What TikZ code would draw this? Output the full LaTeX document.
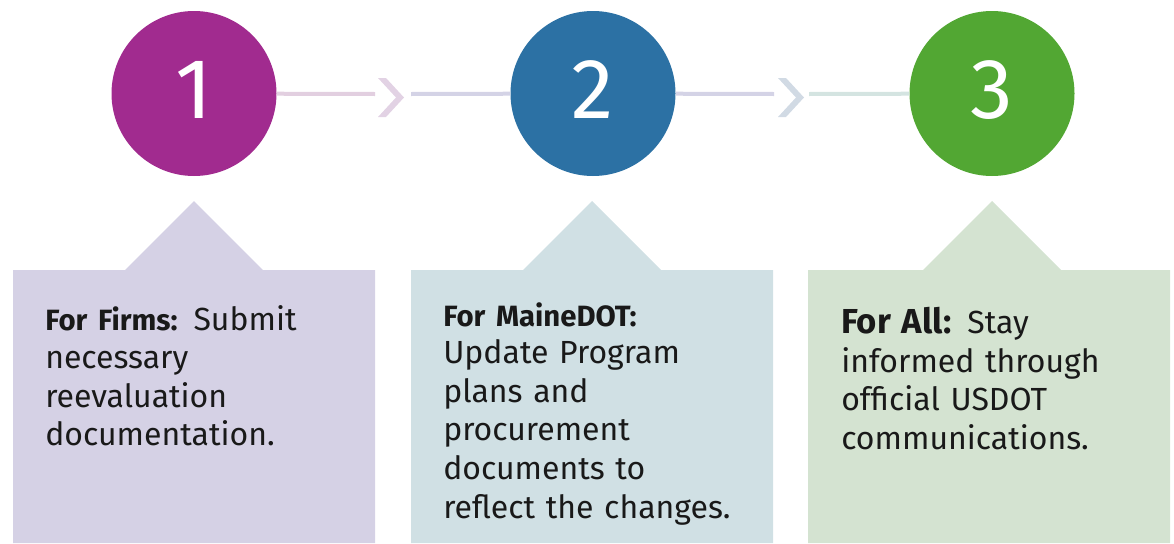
\documentclass[tikz,border=0pt]{standalone}
\usepackage{fontspec}
\setmainfont{Fira Sans}
\usetikzlibrary{positioning}
\definecolor{stepA}{HTML}{A12B8F}
\definecolor{stepB}{HTML}{2C71A4}
\definecolor{stepC}{HTML}{52A733}
\definecolor{boxA}{HTML}{D5D1E5}
\definecolor{boxB}{HTML}{D0E0E4}
\definecolor{boxC}{HTML}{D4E3D1}
\definecolor{linkA}{HTML}{E2CFE0}
\definecolor{chevA}{HTML}{E2D2E4}
\definecolor{linkB}{HTML}{D4D3E6}
\definecolor{chevB}{HTML}{D1DAE4}
\definecolor{linkC}{HTML}{D4E4E1}
\tikzset{every picture/.style={x=0.75pt,y=-0.75pt}}
\tikzset{step circle/.style={circle,inner sep=0pt,minimum size=123.75pt,text=white,text height=38pt,text depth=0pt,font=\fontsize{64}{64}\selectfont}}
\tikzset{link line/.style={line width=3pt}}
\tikzset{box text/.style={anchor=base west,inner sep=0pt,text width=240pt,align=left,text=black!90,font=\fontsize{24}{28.9}\selectfont}}
\newcommand{\chevron}[2]{\fill[#2] (#1,78) -- ++(8,0) -- ++(18,19.5) -- ++(-18,19.5) -- ++(-8,0) -- ++(18,-19.5) -- cycle;}
\begin{document}
\begin{tikzpicture}
  \useasboundingbox (0,0) rectangle (1174,543);
  \foreach \xl/\cx/\col in {13/194/boxA, 411/592/boxB, 808/992/boxC}
    \fill[\col] (\xl,270) -- (\cx-69,270) -- (\cx,201) -- (\cx+69,270) -- (\xl+362,270) -- (\xl+362,543) -- (\xl,543) -- cycle;

  \node[step circle,fill=stepA] (c1) at (194,93.5) {1};
  \node[step circle,fill=stepB] (c2) at (593,93.5) {2};
  \node[step circle,fill=stepC] (c3) at (992,93.5) {3};

  \coordinate (e1) at (375,94);
  \coordinate (s1) at (411,94);
  \coordinate (e2) at (774,94);
  \coordinate (s2) at (809,94);
  \draw[link line,linkA] (c1) -- (e1);
  \chevron{378}{chevA}
  \draw[link line,linkB] (s1) -- (c2);
  \draw[link line,linkB] (c2) -- (e2);
  \chevron{778}{chevB}
  \draw[link line,linkC] (s2) -- (c3);

  \node[box text] (t1) at (45,330) {{\fontsize{22}{28.9}\selectfont\bfseries For Firms:} Submit\\ necessary\\ reevaluation\\ documentation.};
  \node[box text] (t2) at (443,326) {{\fontsize{22}{24}\selectfont\bfseries For MaineDOT:}\\[-0.5pt] Update Program\\ plans and\\ procurement\\ documents to\\ reflect the changes.};
  \node[box text] (t3) at (841,333.5) {{\fontsize{26}{28.9}\selectfont\bfseries For All:} Stay\\ informed through\\ official USDOT\\ communications.};
\end{tikzpicture}
\end{document}
